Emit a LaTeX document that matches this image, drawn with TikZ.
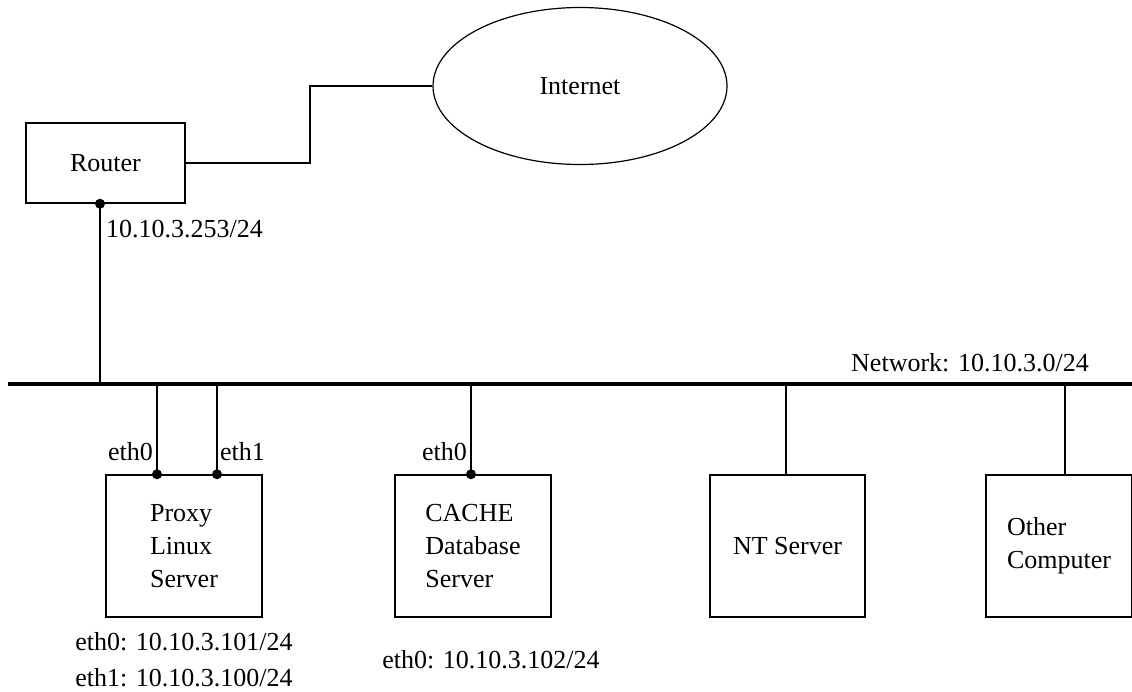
\documentclass[tikz,border=0pt]{standalone}
\usepackage{fontspec}
\setmainfont{Liberation Serif}
\usetikzlibrary{shapes.geometric,positioning}

\tikzset{
  host/.style={draw, line width=1.5pt, rectangle, minimum width=156, minimum height=142, align=left, inner sep=0pt},
  port/.style={circle, fill=black, inner sep=0pt, minimum size=10pt},
  tag/.style={inner sep=0pt, align=center},
  wire/.style={line width=1.5pt}
}

\begin{document}
\begin{tikzpicture}[x=1pt, y=-1pt, font=\fontsize{26}{33}\selectfont]
		\useasboundingbox (0,0) rectangle (1132,691);

		%router
		\node[draw, line width=1.5pt, minimum width=159, minimum height=80] (router) at (105.5,163) {Router};
		%internet
		\node[draw, line width=1.2pt, ellipse, minimum width=294, minimum height=157] (internet) at (580,86) {Internet};

		%bus
		\coordinate (busW) at (8,384);
		\coordinate (busE) at (1136,384);
		\draw[line width=4pt] (busW) -- (busE);
		\node[tag, above left=12pt and 47pt of busE] (net) {Network: 10.10.3.0/24};

		%proxy
		\node[host] (proxy) at (184,546) {Proxy\\Linux\\Server};
		%cache
		\node[host] (cache) at (473,546) {CACHE\\Database\\Server};
		%nt
		\node[host, minimum width=155] (nt) at (787.5,546) {NT Server};
		%other
		\node[host, minimum width=146] (other) at (1059,546) {Other\\Computer};

		%ports
		\coordinate (r0) at ([xshift=-5.5]router.south);
		\coordinate (p0) at ([xshift=-27]proxy.north);
		\coordinate (p1) at ([xshift=33]proxy.north);
		\coordinate (c0) at ([xshift=-2]cache.north);
		\coordinate (n0) at ([xshift=-1.5]nt.north);
		\coordinate (o0) at ([xshift=6]other.north);

		\draw[wire] (router.east) -- ++(124,0) |- (internet.west);
		\draw[wire] (r0) -- (r0 |- busW);
		\draw[wire] (p0) -- (p0 |- busW);
		\draw[wire] (p1) -- (p1 |- busW);
		\draw[wire] (c0) -- (c0 |- busW);
		\draw[wire] (n0) -- (n0 |- busW);
		\draw[wire] (o0) -- (o0 |- busW);

		\node[port] at (r0) {};
		\node[port] at (p0) {};
		\node[port] at (p1) {};
		\node[port] at (c0) {};

		%labels
		\node[tag, anchor=west] (rip) at ([xshift=6, yshift=-25]r0) {10.10.3.253/24};
		\node[tag, anchor=east] (p0lab) at ([xshift=-4, yshift=23]p0) {eth0};
		\node[tag, anchor=west] (p1lab) at ([xshift=3, yshift=23]p1) {eth1};
		\node[tag, anchor=east] (c0lab) at ([xshift=-4, yshift=23]c0) {eth0};
		\node[tag, below=14pt of proxy, font=\fontsize{26}{36}\selectfont] (pip) {eth0: 10.10.3.101/24\\eth1: 10.10.3.100/24};
		\node[tag, below=32pt of cache, xshift=18] (cip) {eth0: 10.10.3.102/24};

\end{tikzpicture}
\end{document}
